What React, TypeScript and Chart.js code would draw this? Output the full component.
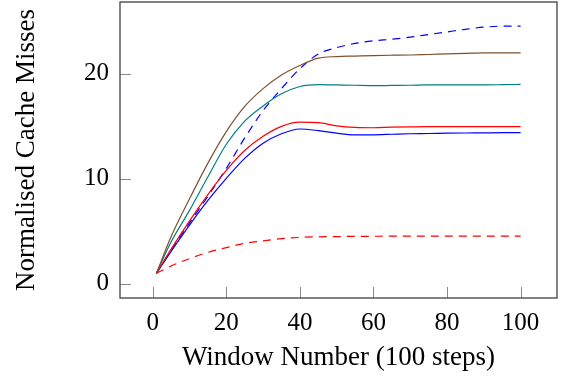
import React, { useEffect, useRef } from "react";
import { Chart, registerables } from "chart.js";

Chart.register(...registerables);

const windows = [1, 5, 10, 15, 20, 25, 30, 35, 40, 45, 50, 55, 60, 65, 70, 75, 80, 85, 90, 95, 100];

const brownSeries = [1, 4.5, 8.1, 11.5, 14.5, 16.9, 18.6, 19.9, 20.8, 21.5, 21.65, 21.7, 21.75, 21.78, 21.8, 21.85, 21.9, 21.95, 22.0, 22.0, 22.0];
const tealSeries = [1, 4.0, 7.0, 10.2, 13.3, 15.5, 16.95, 18.1, 18.8, 18.98, 18.95, 18.92, 18.88, 18.9, 18.92, 18.95, 18.95, 18.95, 18.95, 18.97, 19.0];
const redSeries = [1, 3.3, 6.0, 8.5, 10.8, 12.7, 14.05, 15.0, 15.4, 15.35, 15.05, 14.9, 14.87, 14.92, 14.95, 14.97, 14.97, 14.97, 14.97, 14.97, 14.97];
const blueSeries = [1, 3.1, 5.6, 7.95, 10.05, 11.95, 13.4, 14.3, 14.75, 14.6, 14.35, 14.2, 14.2, 14.25, 14.3, 14.32, 14.35, 14.37, 14.38, 14.4, 14.4];
const blueDashedSeries = [1, 3.2, 5.8, 8.35, 11.0, 13.9, 16.5, 18.6, 20.5, 21.9, 22.5, 22.9, 23.15, 23.3, 23.5, 23.75, 24.0, 24.25, 24.45, 24.55, 24.56];
const redDashedSeries = [1, 1.7, 2.4, 3.0, 3.45, 3.85, 4.1, 4.3, 4.42, 4.48, 4.5, 4.52, 4.53, 4.54, 4.54, 4.55, 4.55, 4.55, 4.55, 4.55, 4.55];

const xTicks = [0, 20, 40, 60, 80, 100];
const yTicks = [0, 10, 20];

const xTitle = "Window Number (100 steps)";
const yTitle = "Normalised Cache Misses";

export default function App() {
  const ref = useRef<HTMLCanvasElement>(null);

  useEffect(() => {
    const canvas = ref.current;
    if (!canvas) return;
    const mk = (data: number[], color: string, dashed: boolean) => ({
      data: windows.map((w, i) => ({ x: w, y: data[i] })),
      borderColor: color,
      backgroundColor: color,
      borderWidth: 1.2,
      borderDash: dashed ? [8, 6] : [],
      pointRadius: 0,
      fill: false,
      cubicInterpolationMode: "monotone" as const,
    });

    const frame = {
      id: "frame",
      afterDraw(chart: any) {
        const { ctx, chartArea, scales } = chart;
        ctx.save();
        ctx.strokeStyle = "#8a8a8a";
        ctx.lineWidth = 1;
        for (const t of scales.x.ticks) {
          const px = Math.round(scales.x.getPixelForValue(t.value)) + 0.5;
          ctx.beginPath();
          ctx.moveTo(px, chartArea.bottom);
          ctx.lineTo(px, chartArea.bottom - 11);
          ctx.stroke();
        }
        for (const t of scales.y.ticks) {
          const py = Math.round(scales.y.getPixelForValue(t.value)) + 0.5;
          ctx.beginPath();
          ctx.moveTo(chartArea.left, py);
          ctx.lineTo(chartArea.left + 11, py);
          ctx.stroke();
        }
        ctx.strokeStyle = "#404040";
        ctx.lineWidth = 1.3;
        ctx.strokeRect(chartArea.left, chartArea.top, chartArea.right - chartArea.left, chartArea.bottom - chartArea.top);
        ctx.restore();
      },
    };

    const chart = new Chart(canvas, {
      type: "line",
      data: {
        datasets: [
          mk(brownSeries, "#7a5230", false),
          mk(tealSeries, "#008080", false),
          mk(redSeries, "#ff0000", false),
          mk(blueSeries, "#0000ff", false),
          mk(blueDashedSeries, "#0000ff", true),
          mk(redDashedSeries, "#ff0000", true),
        ],
      },
      options: {
        responsive: false,
        animation: false,
        layout: { padding: { top: 2, right: 6, left: 0, bottom: 0 } },
        plugins: { legend: { display: false }, tooltip: { enabled: false } },
        scales: {
          x: {
            type: "linear",
            min: -8.9,
            max: 109.9,
            afterBuildTicks: (s: any) => {
              s.ticks = xTicks.map((v) => ({ value: v }));
            },
            afterFit: (s: any) => {
              s.height = 80;
              s.paddingLeft = 0;
              s.paddingRight = 0;
            },
            grid: { display: false, drawTicks: false },
            border: { display: false },
            ticks: {
              color: "#000",
              padding: 10,
              maxRotation: 0,
              autoSkip: false,
              font: { family: "'Liberation Serif', 'Times New Roman', serif", size: 25 },
            },
            title: {
              display: true,
              text: xTitle,
              color: "#000",
              padding: { top: 0, bottom: 4 },
              font: { family: "'Liberation Serif', 'Times New Roman', serif", size: 27 },
            },
          },
          y: {
            type: "linear",
            min: -1.35,
            max: 26.85,
            afterBuildTicks: (s: any) => {
              s.ticks = yTicks.map((v) => ({ value: v }));
            },
            afterFit: (s: any) => {
              s.width = 120;
              s.paddingTop = 0;
              s.paddingBottom = 0;
            },
            grid: { display: false, drawTicks: false },
            border: { display: false },
            ticks: {
              color: "#000",
              padding: 11,
              autoSkip: false,
              font: { family: "'Liberation Serif', 'Times New Roman', serif", size: 25 },
            },
            title: {
              display: true,
              text: yTitle,
              color: "#000",
              padding: { top: 11, bottom: 0 },
              font: { family: "'Liberation Serif', 'Times New Roman', serif", size: 27 },
            },
          },
        },
      },
      plugins: [frame],
    } as any);
    return () => chart.destroy();
  }, []);

  return (
    <div style={{ position: "fixed", left: 0, top: 0, width: 563, height: 378, background: "#fff" }}>
      <canvas ref={ref} width={563} height={378} style={{ display: "block" }} />
    </div>
  );
}
